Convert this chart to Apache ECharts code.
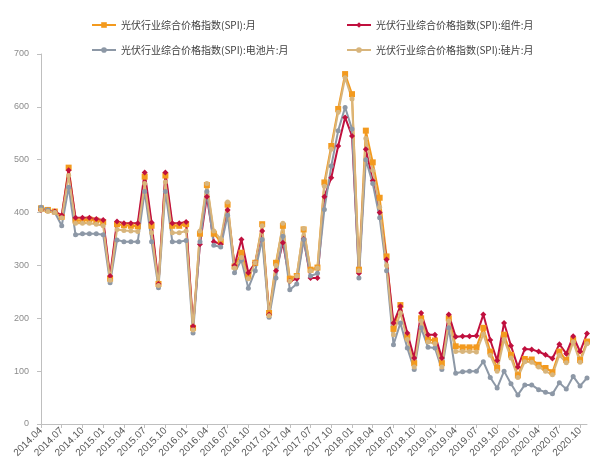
<!DOCTYPE html>
<html>
<head>
<meta charset="utf-8">
<script src="https://cdn.jsdelivr.net/npm/echarts@6/dist/echarts.min.js"></script>
<style>
  html, body { margin: 0; padding: 0; background: #ffffff; }
  #chart { width: 612px; height: 472px; }
</style>
</head>
<body>
<div id="chart"></div>
<script>
// Monthly solar PV price index (SPI), 2014.04 – 2020.11
const months = [];
for (let y = 2014, m = 4; y < 2020 || (y === 2020 && m <= 11); ) {
  months.push(y + '.' + (m < 10 ? '0' + m : m));
  m++; if (m > 12) { m = 1; y++; }
}

const seriesNames = [
  '光伏行业综合价格指数(SPI):月',
  '光伏行业综合价格指数(SPI):组件:月',
  '光伏行业综合价格指数(SPI):电池片:月',
  '光伏行业综合价格指数(SPI):硅片:月'
];

// Composite index
const spiTotal = [
  408, 405, 402, 392, 485, 385, 385, 387, 385, 382,
  275, 378, 376, 375, 374, 468, 375, 265, 470, 375,
  375, 378, 182, 360, 452, 360, 345, 415, 298, 324,
  280, 305, 378, 210, 305, 375, 275, 280, 368, 292,
  296, 457, 526, 596, 662, 624, 292, 555, 495, 428,
  317, 180, 225, 165, 115, 200, 160, 158, 115, 200,
  147, 145, 145, 145, 182, 137, 106, 169, 131, 92,
  123, 122, 112, 106, 98, 137, 121, 159, 121, 156
];
// Modules
const spiModule = [
  405, 404, 402, 395, 480, 390, 390, 390, 388, 386,
  280, 383, 380, 380, 380, 476, 381, 265, 476, 380,
  380, 382, 185, 340, 430, 345, 340, 405, 300, 349,
  286, 305, 365, 207, 290, 343, 270, 275, 350, 276,
  276, 430, 466, 526, 580, 545, 285, 520, 460, 400,
  311, 191, 223, 172, 125, 210, 169, 169, 125, 207,
  165, 166, 166, 167, 207, 159, 120, 191, 148, 108,
  142, 141, 137, 131, 124, 151, 133, 166, 137, 171
];
// Cells
const spiCell = [
  410, 405, 400, 375, 448, 358, 360, 360, 360, 358,
  267, 348, 345, 345, 345, 440, 345, 258, 440, 345,
  345, 347, 172, 345, 440, 338, 335, 395, 286, 310,
  257, 290, 349, 202, 276, 355, 254, 265, 349, 280,
  285, 406, 488, 555, 599, 558, 276, 500, 455, 390,
  290, 150, 191, 144, 103, 182, 145, 144, 103, 182,
  96, 99, 100, 100, 118, 88, 68, 100, 76, 55,
  74, 74, 65, 60, 57, 78, 66, 90, 72, 87
];
// Wafers
const spiWafer = [
  405, 402, 400, 390, 470, 380, 380, 380, 378, 375,
  272, 368, 366, 365, 364, 455, 362, 262, 458, 362,
  362, 365, 178, 365, 455, 365, 350, 420, 295, 315,
  275, 305, 375, 205, 300, 380, 270, 280, 370, 290,
  295, 450, 520, 590, 655, 615, 290, 540, 480, 410,
  300, 169, 210, 160, 108, 195, 155, 152, 108, 195,
  137, 137, 137, 136, 170, 130, 100, 160, 125, 88,
  118, 117, 108, 100, 93, 130, 116, 155, 117, 152
];

const yTicks = { min: 0, max: 700, step: 100 };

const colors = ['#F39A1E', '#C0103E', '#8D98A6', '#D8B57C'];
const symbols = ['rect', 'diamond', 'circle', 'circle'];
const symbolSizes = [6, 6, 5, 5];
const allData = [spiTotal, spiModule, spiCell, spiWafer];

const chart = echarts.init(document.getElementById('chart'), null, { renderer: 'canvas' });

const legendPos = [
  { left: 86, top: 15 },
  { left: 341, top: 15 },
  { left: 86, top: 40 },
  { left: 341, top: 40 }
];

const option = {
  backgroundColor: '#ffffff',
  animation: false,
  legend: legendPos.map((p, i) => ({
    data: [seriesNames[i]],
    left: p.left,
    top: p.top,
    itemWidth: 24,
    itemHeight: 7,
    itemGap: 4,
    textStyle: { fontSize: 10, color: '#404040', fontFamily: 'Noto Sans CJK SC' }
  })),
  grid: { left: 41, right: 25, top: 54, bottom: 48, containLabel: false },
  xAxis: {
    type: 'category',
    data: months,
    boundaryGap: false,
    axisLine: { lineStyle: { color: '#BFBFBF', width: 1 } },
    axisTick: { interval: 2, length: 4, lineStyle: { color: '#BFBFBF' } },
    axisLabel: {
      interval: 2,
      rotate: 45,
      fontSize: 10,
      color: '#595959',
      margin: 5,
      fontFamily: 'Liberation Sans'
    },
    splitLine: { show: false }
  },
  yAxis: {
    type: 'value',
    min: yTicks.min,
    max: yTicks.max,
    interval: yTicks.step,
    axisLine: { show: true, lineStyle: { color: '#BFBFBF', width: 1 } },
    axisTick: { show: true, length: 4, lineStyle: { color: '#BFBFBF' } },
    axisLabel: { fontSize: 9, color: '#8C8C8C', margin: 12, fontFamily: 'Liberation Sans' },
    splitLine: { show: false }
  },
  series: seriesNames.map((name, i) => ({
    name: name,
    type: 'line',
    data: allData[i],
    color: colors[i],
    symbol: symbols[i],
    symbolSize: symbolSizes[i],
    showAllSymbol: true,
    lineStyle: { width: 2, color: colors[i] },
    itemStyle: { color: colors[i] }
  }))
};

chart.setOption(option);
</script>
</body>
</html>
